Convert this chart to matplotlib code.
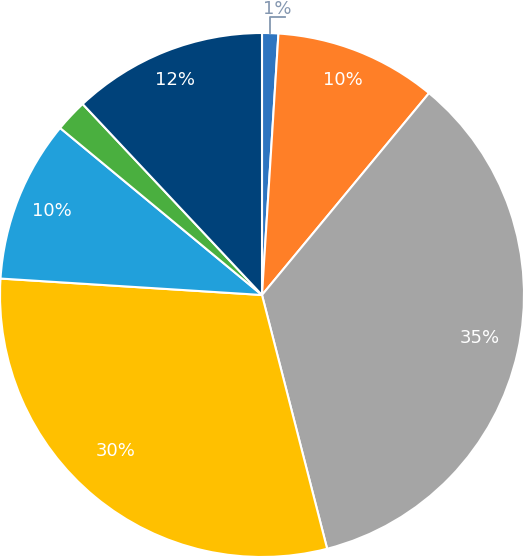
import matplotlib.pyplot as plt
import numpy as np

shares = [1, 10, 35, 30, 10, 2, 12]
labels = ['1%', '10%', '35%', '30%', '10%', '', '12%']
colors = ['#2E75C0', '#FF7F27', '#A5A5A5', '#FFC000', '#21A0DB', '#4AAF3F', '#00427A']
# label placement: radius fraction and angle nudge (deg)
label_r = [0, 0.877, 0.848, 0.815, 0.863, 0, 0.885]
label_da = [0, 1.0, 1.4, -3.5, -0.2, 0, 0.4]

fig = plt.figure(figsize=(5.23, 5.56), dpi=100)
ax = fig.add_axes([0, 0, 1, 1])
ax.axis('off')

wedges, _ = ax.pie(shares, colors=colors, startangle=90, counterclock=False,
                   radius=1, wedgeprops=dict(edgecolor='white', linewidth=1.5))

# labels inside the slices (the 1% one goes outside with a leader)
start = 90.0
for share, lab, r, da in zip(shares, labels, label_r, label_da):
    mid = start - share * 3.6 / 2 + da
    start -= share * 3.6
    if not lab or share < 2:
        continue
    ax.text(r * np.cos(np.radians(mid)), r * np.sin(np.radians(mid)), lab,
            ha='center', va='center', color='white', fontsize=13,
            family='DejaVu Sans')

# small slice label with leader line
a0 = np.radians(90 - shares[0] * 3.6 / 2)
x0, y0 = np.cos(a0), np.sin(a0)
ax.plot([x0, x0, x0 + 0.055], [y0, y0 + 0.062, y0 + 0.062], color='#8497B0', lw=1.3)
ax.text(x0 + 0.025, y0 + 0.0725, labels[0], ha='center', va='baseline', color='#8497B0',
        fontsize=13, family='DejaVu Sans')

ax.set_xlim(-1.0, 261 / 262)
ax.set_ylim(-261 / 262, 295 / 262)
ax.set_aspect('equal')

fig.savefig('out.png', dpi=100)
